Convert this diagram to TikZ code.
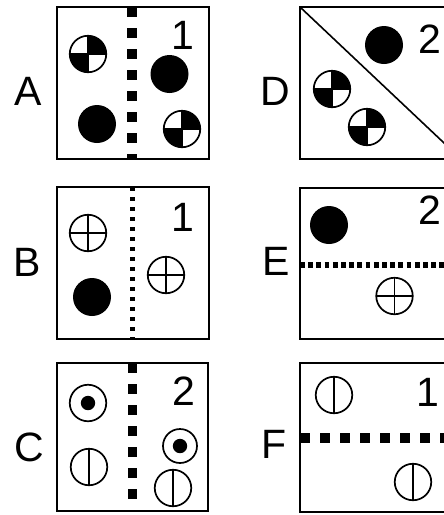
\documentclass[tikz,border=0pt]{standalone}
\usepackage{fontspec}
\setmainfont{Liberation Sans}
\begin{document}
\begin{tikzpicture}[x=1pt,y=-1pt,
  panel/.style={draw, line width=2pt, inner sep=0pt, outer sep=0pt},
  lbl/.style={inner sep=0pt, font=\fontsize{41}{41}\selectfont},
  num/.style={inner sep=0pt, font=\fontsize{41}{41}\selectfont},
  sym/.style={circle, inner sep=0pt, minimum size=36.5pt, line width=1.7pt},
  filledc/.style={circle, fill=black, inner sep=0pt, minimum size=38pt},
  quartc/.style={sym, draw, path picture={
     \fill (path picture bounding box.center) rectangle (path picture bounding box.north east);
     \fill (path picture bounding box.center) rectangle (path picture bounding box.south west);
     \draw[line width=1.7pt] (path picture bounding box.north) -- (path picture bounding box.south)
       (path picture bounding box.west) -- (path picture bounding box.east);}},
  crossc/.style={sym, draw, path picture={
     \draw[line width=1.6pt] (path picture bounding box.north) -- (path picture bounding box.south)
       (path picture bounding box.west) -- (path picture bounding box.east);}},
  vertc/.style={sym, draw, path picture={
     \draw[line width=1.6pt] (path picture bounding box.north) -- (path picture bounding box.south);}},
  bullc/.style={sym, draw, path picture={
     \fill (path picture bounding box.center) circle (7.2pt);}},
  thickdash/.style={line width=9.5pt, dash pattern=on 10pt off 11pt},
  finedot/.style={line width=4.5pt, dash pattern=on 4pt off 6pt},
  hdot/.style={line width=5.5pt, dash pattern=on 4.7pt off 3.5pt},
  hthick/.style={line width=10pt, dash pattern=on 10pt off 10pt}]
\useasboundingbox (0,0) rectangle (444,515);
\begin{scope}
\clip (0,0) rectangle (444,515);
% ---------- Panel A ----------
\coordinate (aTop) at (132,7);
\coordinate (aBot) at (132,159);
\draw[thickdash] (aTop) -- (aBot);
\node[panel, minimum width=152pt, minimum height=152pt] (boxA) at (133,83) {};
\node[lbl] (labA) at (28.5,91) {A};
\node[num] (numA) at (183,35) {1};
\node[quartc] (a1) at (88,54) {};
\node[filledc] (a2) at (169.5,74) {};
\node[filledc] (a3) at (97,124) {};
\node[quartc] (a4) at (182,129) {};
% ---------- Panel B ----------
\coordinate (bTop) at (132.5,187);
\coordinate (bBot) at (132.5,339);
\draw[finedot] (bTop) -- (bBot);
\node[panel, minimum width=152pt, minimum height=152pt] (boxB) at (133,263) {};
\node[lbl] (labB) at (27.5,262) {B};
\node[num] (numB) at (183,217) {1};
\node[crossc] (b1) at (88,233) {};
\node[crossc] (b2) at (166,275) {};
\node[filledc] (b3) at (92,297) {};
% ---------- Panel C ----------
\coordinate (cTop) at (132.5,363);
\coordinate (cBot) at (132.5,511);
\draw[thickdash] (cTop) -- (cBot);
\node[panel, minimum width=151pt, minimum height=148pt] (boxC) at (132.5,437) {};
\node[lbl] (labC) at (29,447) {C};
\node[num] (numC) at (184,391) {2};
\node[bullc] (c1) at (88,403) {};
\node[bullc, minimum size=34pt] (c2) at (180,446) {};
\node[vertc] (c3) at (89,467) {};
\node[vertc] (c4) at (173,488) {};
% ---------- Panel D ----------
\node[panel, minimum width=161pt, minimum height=152pt] (boxD) at (380.5,83) {};
\draw[line width=1.6pt] (boxD.north west) -- (boxD.south east);
\node[lbl] (labD) at (275,91) {D};
\node[num] (numD) at (430,39) {2};
\node[filledc] (d1) at (384,45) {};
\node[quartc] (d2) at (332,89) {};
\node[quartc] (d3) at (367,127) {};
% ---------- Panel E ----------
\coordinate (eL) at (300,265);
\coordinate (eR) at (461,265);
\draw[hdot] (eL) -- (eR);
\node[panel, minimum width=161pt, minimum height=151pt] (boxE) at (380,263.5) {};
\node[lbl] (labE) at (276,261) {E};
\node[num] (numE) at (430,210) {2};
\node[filledc] (e1) at (329,225) {};
\node[crossc] (e2) at (394.5,296) {};
% ---------- Panel F ----------
\coordinate (fL) at (300,438);
\coordinate (fR) at (461,438);
\draw[hthick] (fL) -- (fR);
\node[panel, minimum width=161pt, minimum height=149pt] (boxF) at (380.5,437.5) {};
\node[lbl] (labF) at (274,444) {F};
\node[num] (numF) at (428,392) {1};
\node[vertc] (f1) at (334,395) {};
\node[vertc] (f2) at (413,482) {};
\end{scope}
\end{tikzpicture}
\end{document}
